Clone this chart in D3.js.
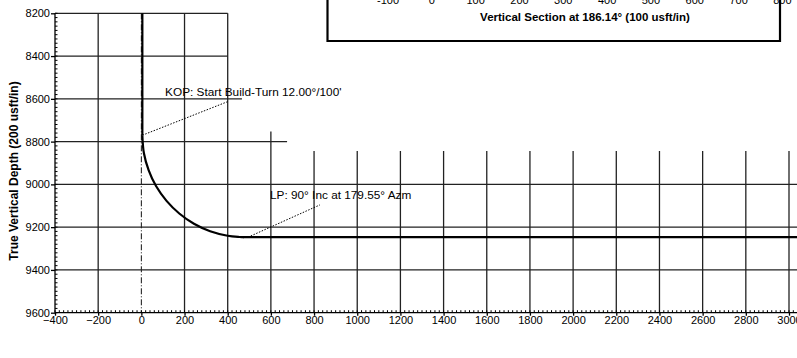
<!DOCTYPE html>
<html>
<head>
<meta charset="utf-8">
<script src="https://cdn.jsdelivr.net/npm/d3@7"></script>
<style>
  html, body { margin: 0; padding: 0; background: #fff; }
  svg { display: block; }
  text { font-family: "Liberation Sans", Arial, sans-serif; fill: #000; }
</style>
</head>
<body>
<svg id="chart" width="797" height="358"></svg>
<script>
// ---- data ----
const xTicks = [-400, -200, 0, 200, 400, 600, 800, 1000, 1200, 1400, 1600, 1800, 2000, 2200, 2400, 2600, 2800, 3000];
const yTicks = [8200, 8400, 8600, 8800, 9000, 9200, 9400, 9600];
// well path: vertical hole, build section, lateral (vertical section ft, TVD ft)
const verticalVS = [0, 0];
const verticalTVD = [8200, 8770];
const buildVS = [0, 7, 29, 64, 112, 171, 239, 314, 395, 450, 470];
const buildTVD = [8770, 8853, 8933, 9009, 9077, 9136, 9184, 9219, 9240, 9246, 9247];
const lateralVS = [470, 3040];
const lateralTVD = [9247, 9247];
// annotations
const kopLabel = "KOP: Start Build-Turn 12.00°/100'";
const kopLeaderVS = [5, 400];
const kopLeaderTVD = [8770, 8613];
const kopTextAt = [110, 8587];
const lpLabel = "LP: 90° Inc at 179.55° Azm";
const lpLeaderVS = [494, 827];
const lpLeaderTVD = [9247, 9096];
const lpTextAt = [596, 9068];
const yTitle = "True Vertical Depth (200 usft/in)";
// inset (overlapping plan view strip)
const insetTicks = [-100, 0, 100, 200, 300, 400, 500, 600, 700, 800];
const insetTitle = "Vertical Section at 186.14° (100 usft/in)";

// ---- layout ----
const svg = d3.select("#chart");
const x = d3.scaleLinear().domain([-400, 3000]).range([55, 789]);
const y = d3.scaleLinear().domain([8200, 9600]).range([13.3, 312.7]);
const xMaxEdge = x.invert(797);

// grid extents (blank region at top right where inset sits)
function vStart(v) { return v <= 400 ? 8200 : (v === 600 ? 8753 : 8844); }
function hEnd(d) { return d <= 8400 ? 400 : (d === 8600 ? 466 : (d === 8800 ? 675 : xMaxEdge)); }

const grid = svg.append("g");
xTicks.filter(v => v > -400).forEach(v => {
  grid.append("line")
    .attr("x1", x(v)).attr("x2", x(v))
    .attr("y1", y(vStart(v))).attr("y2", y(9600))
    .attr("stroke", v === 0 ? "#111" : "#222")
    .attr("stroke-width", v === 0 ? 1 : 1.3)
    .attr("stroke-dasharray", v === 0 ? "6,2,1,2" : null);
});
yTicks.filter(d => d < 9600).forEach(d => {
  grid.append("line")
    .attr("x1", x(-400)).attr("x2", x(hEnd(d)))
    .attr("y1", y(d)).attr("y2", y(d))
    .attr("stroke", "#222").attr("stroke-width", 1.3);
});

// axes
const axes = svg.append("g");
axes.append("line").attr("x1", x(-400)).attr("x2", x(-400)).attr("y1", y(8200)).attr("y2", y(9600)).attr("stroke", "#000").attr("stroke-width", 1.3);
axes.append("line").attr("x1", x(-400)).attr("x2", 797).attr("y1", y(9600)).attr("y2", y(9600)).attr("stroke", "#000").attr("stroke-width", 1.3);

// minor ticks (every 20 ft)
const yMinor = d3.range(8200, 9600.1, 20);
axes.selectAll(".ym").data(yMinor).join("line")
  .attr("x1", x(-400)).attr("x2", x(-400) + 2.5)
  .attr("y1", d => y(d)).attr("y2", d => y(d))
  .attr("stroke", "#000").attr("stroke-width", 1);
const xMinor = d3.range(-400, xMaxEdge, 20);
axes.selectAll(".xm").data(xMinor).join("line")
  .attr("x1", d => x(d)).attr("x2", d => x(d))
  .attr("y1", y(9600)).attr("y2", y(9600) - 2.5)
  .attr("stroke", "#000").attr("stroke-width", 1);

// major ticks + labels
const yAxis = d3.axisLeft(y).tickValues(yTicks).tickSize(4).tickPadding(1).tickFormat(d3.format("d"));
const ya = svg.append("g").attr("transform", `translate(${x(-400)},0)`).call(yAxis);
ya.select(".domain").remove();
ya.selectAll("text").style("font-size", "11px").attr("fill", "#000");
ya.selectAll("line").attr("stroke", "#000").attr("stroke-width", 1.3);

const xAxis = d3.axisBottom(x).tickValues(xTicks).tickSize(3).tickPadding(1).tickFormat(d3.format("d"));
const xa = svg.append("g").attr("transform", `translate(0,${y(9600)})`).call(xAxis);
xa.select(".domain").remove();
xa.selectAll("text").style("font-size", "11px").attr("fill", "#000");
xa.selectAll("line").attr("stroke", "#000").attr("stroke-width", 1.3);

// y title
svg.append("text")
  .attr("transform", `translate(18,${(y(8200) + y(9600)) / 2 + 8}) rotate(-90)`)
  .attr("text-anchor", "middle")
  .style("font-size", "12px").style("font-weight", "bold")
  .text(yTitle);

// well path
const toPts = (xs, ys) => xs.map((v, i) => [x(v), y(ys[i])]);
const well = svg.append("g").attr("fill", "none").attr("stroke", "#000").attr("stroke-width", 2.2);
well.append("path").attr("d", d3.line()(toPts(verticalVS, verticalTVD))).attr("transform", "translate(1,0)");
well.append("path").attr("d", d3.line().curve(d3.curveCatmullRom.alpha(0.5))(toPts(buildVS, buildTVD))).attr("transform", "translate(1,0)");
well.append("path").attr("d", d3.line()(toPts(lateralVS, lateralTVD)));

// leaders
[[kopLeaderVS, kopLeaderTVD], [lpLeaderVS, lpLeaderTVD]].forEach(([vs, tvd]) => {
  svg.append("path").attr("d", d3.line()(toPts(vs, tvd)))
    .attr("fill", "none").attr("stroke", "#000").attr("stroke-width", 1)
    .attr("stroke-dasharray", "1.5,1.5");
});

// labels
svg.append("text").attr("x", x(kopTextAt[0])).attr("y", y(kopTextAt[1]))
  .style("font-size", "11.8px").text(kopLabel);
svg.append("text").attr("x", x(lpTextAt[0])).attr("y", y(lpTextAt[1]))
  .style("font-size", "11.8px").text(lpLabel);

// inset strip (bottom of the overlapping plot)
const xi = d3.scaleLinear().domain([-100, 800]).range([388, 782.4]);
const inset = svg.append("g");
inset.selectAll("text.it").data(insetTicks).join("text")
  .attr("x", d => xi(d)).attr("y", 4)
  .attr("text-anchor", "middle").style("font-size", "11px")
  .text(d => d);
inset.append("text").attr("x", 585).attr("y", 21)
  .attr("text-anchor", "middle").style("font-size", "11.5px").style("font-weight", "bold")
  .text(insetTitle);
inset.append("path")
  .attr("d", `M327.5,-5 L327.5,41 L780,41 L780,-5`)
  .attr("fill", "none").attr("stroke", "#000").attr("stroke-width", 2.2);
</script>
</body>
</html>
